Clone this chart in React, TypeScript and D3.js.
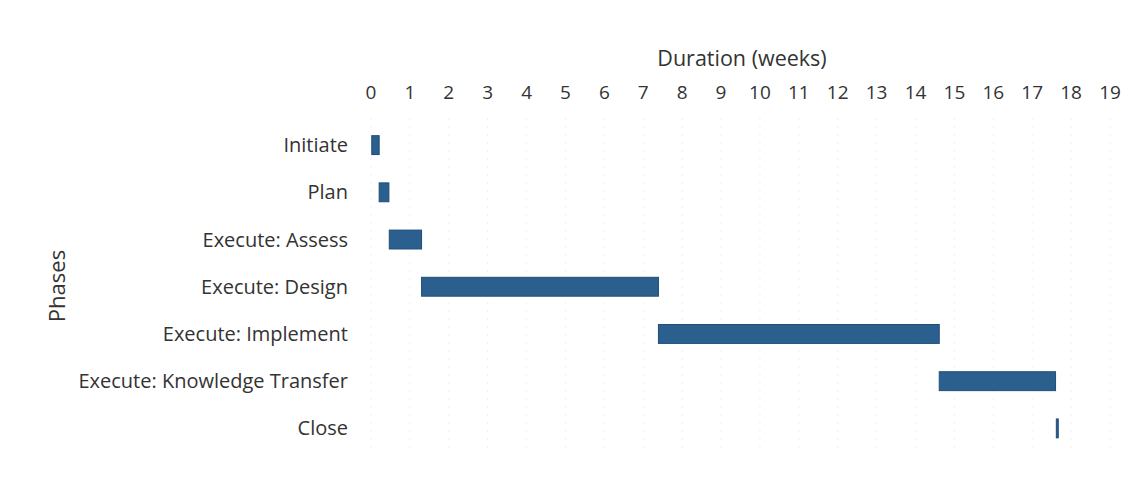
import React from "react";
import * as d3 from "d3";

const phases = [
  "Initiate",
  "Plan",
  "Execute: Assess",
  "Execute: Design",
  "Execute: Implement",
  "Execute: Knowledge Transfer",
  "Close",
];
const startWeeks = [0.02, 0.21, 0.47, 1.3, 7.39, 14.61, 17.62];
const durationWeeks = [0.19, 0.25, 0.83, 6.09, 7.22, 2.99, 0.05];
const tickValues = d3.range(0, 20);

const W = 1145;
const H = 477;
const FONT = "'Open Sans', 'Liberation Sans', sans-serif";

export default function App() {
  const x = d3.scaleLinear().domain([0, 19]).range([371, 1110]);
  const y = d3
    .scaleBand<string>()
    .domain(phases)
    .range([121.5, 452])
    .paddingInner(0.6)
    .paddingOuter(0.3);

  return (
    <svg
      width={W}
      height={H}
      style={{ position: "absolute", left: 0, top: 0, background: "#fff" }}
    >
      <rect x={0} y={0} width={W} height={H} fill="#fff" />
      {tickValues.map((t) => (
        <line
          key={"g" + t}
          x1={x(t)}
          x2={x(t)}
          y1={118}
          y2={452}
          stroke="#f0f0f0"
          strokeWidth={1}
          strokeDasharray="2,6"
        />
      ))}
      <text
        x={742}
        y={58}
        dy="0.35em"
        textAnchor="middle"
        fontFamily={FONT}
        fontSize={21.5}
        fill="#333"
      >
        Duration (weeks)
      </text>
      {tickValues.map((t) => (
        <text
          key={"t" + t}
          x={x(t)}
          y={92}
          dy="0.35em"
          textAnchor="middle"
          fontFamily={FONT}
          fontSize={19}
          fill="#333"
        >
          {t}
        </text>
      ))}
      {phases.map((p) => (
        <text
          key={"l" + p}
          x={348}
          y={(y(p) as number) + y.bandwidth() / 2}
          dy="0.35em"
          textAnchor="end"
          fontFamily={FONT}
          fontSize={20}
          fill="#333"
        >
          {p}
        </text>
      ))}
      <text
        transform={`translate(57,286) rotate(-90)`}
        dy="0.35em"
        textAnchor="middle"
        fontFamily={FONT}
        fontSize={22}
        fill="#333"
      >
        Phases
      </text>
      {phases.map((p, i) => (
        <rect
          key={"b" + p}
          x={x(startWeeks[i])}
          y={y(p) as number}
          width={Math.max(1.5, x(startWeeks[i] + durationWeeks[i]) - x(startWeeks[i]))}
          height={y.bandwidth()}
          fill="#2b5f8e"
          stroke="#1f4d7a"
          strokeWidth={1}
        />
      ))}
    </svg>
  );
}
